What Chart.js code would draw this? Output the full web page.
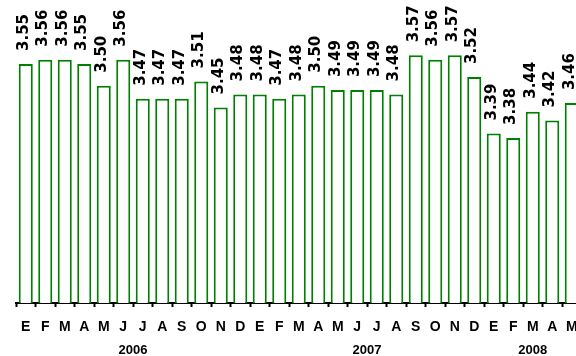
<!DOCTYPE html>
<html>
<head>
<meta charset="utf-8">
<script src="https://cdn.jsdelivr.net/npm/chart.js@4"></script>
<style>
  html, body { margin: 0; padding: 0; background: #fff; overflow: hidden; }
  canvas { display: block; }
</style>
</head>
<body>
<canvas id="c" width="600" height="356"></canvas>
<script>
// Monthly values, January 2006 to May 2008
const months = ['E','F','M','A','M','J','J','A','S','O','N','D',
                'E','F','M','A','M','J','J','A','S','O','N','D',
                'E','F','M','A','M'];
const years = ['2006','2007','2008'];
const yearOfMonth = [0,0,0,0,0,0,0,0,0,0,0,0,
                     1,1,1,1,1,1,1,1,1,1,1,1,
                     2,2,2,2,2];
const values = [3.55, 3.56, 3.56, 3.55, 3.50, 3.56, 3.47, 3.47, 3.47, 3.51, 3.45, 3.48,
                3.48, 3.47, 3.48, 3.50, 3.49, 3.49, 3.49, 3.48, 3.57, 3.56, 3.57, 3.52,
                3.39, 3.38, 3.44, 3.42, 3.46];

const GREEN = '#008000';

// Vertical value labels above each bar
const valueLabels = {
  id: 'valueLabels',
  afterDatasetsDraw(chart) {
    const ctx = chart.ctx;
    const meta = chart.getDatasetMeta(0);
    ctx.save();
    ctx.fillStyle = '#000';
    ctx.font = 'bold 15px "DejaVu Sans"';
    ctx.textAlign = 'left';
    ctx.textBaseline = 'alphabetic';
    meta.data.forEach((bar, i) => {
      ctx.save();
      ctx.translate(bar.x + 2, bar.y - 13);
      ctx.rotate(-Math.PI / 2);
      ctx.fillText(values[i].toFixed(2), 0, 0);
      ctx.restore();
    });
    ctx.restore();
  }
};

// Year captions centred under their months
const yearLabels = {
  id: 'yearLabels',
  afterDraw(chart) {
    const ctx = chart.ctx;
    const x = chart.scales.x;
    ctx.save();
    ctx.fillStyle = '#000';
    ctx.font = 'bold 13px "Liberation Sans", Arial, sans-serif';
    ctx.textAlign = 'center';
    ctx.textBaseline = 'middle';
    years.forEach((label, yi) => {
      const idx = yearOfMonth.map((y, i) => y === yi ? i : -1).filter(i => i >= 0);
      const first = x.getPixelForValue(idx[0]);
      const last = x.getPixelForValue(idx[idx.length - 1]);
      ctx.fillText(label, (first + last) / 2, 350);
    });
    ctx.restore();
  }
};

new Chart(document.getElementById('c'), {
  type: 'bar',
  data: {
    labels: months,
    datasets: [{
      data: values,
      backgroundColor: '#ffffff',
      borderColor: GREEN,
      borderWidth: 2,
      borderSkipped: 'start',
      barPercentage: 0.72,
      categoryPercentage: 1.0
    }]
  },
  options: {
    responsive: false,
    animation: false,
    layout: { padding: { left: 16, right: 18.5, top: 1, bottom: 0 } },
    plugins: { legend: { display: false }, tooltip: { enabled: false } },
    scales: {
      y: {
        display: false,
        min: 3.0,
        max: 3.695
      },
      x: {
        offset: true,
        afterFit(scale) { scale.height = 53; },
        grid: {
          display: true,
          offset: true,
          drawOnChartArea: false,
          drawTicks: true,
          tickLength: 4,
          tickWidth: 2,
          tickColor: '#000'
        },
        border: { display: true, color: '#000', width: 2 },
        ticks: {
          color: '#000',
          padding: 12,
          maxRotation: 0,
          autoSkip: false,
          font: { family: '"Liberation Sans", Arial, sans-serif', size: 14, weight: 'bold' }
        }
      }
    }
  },
  plugins: [valueLabels, yearLabels]
});
</script>
</body>
</html>
